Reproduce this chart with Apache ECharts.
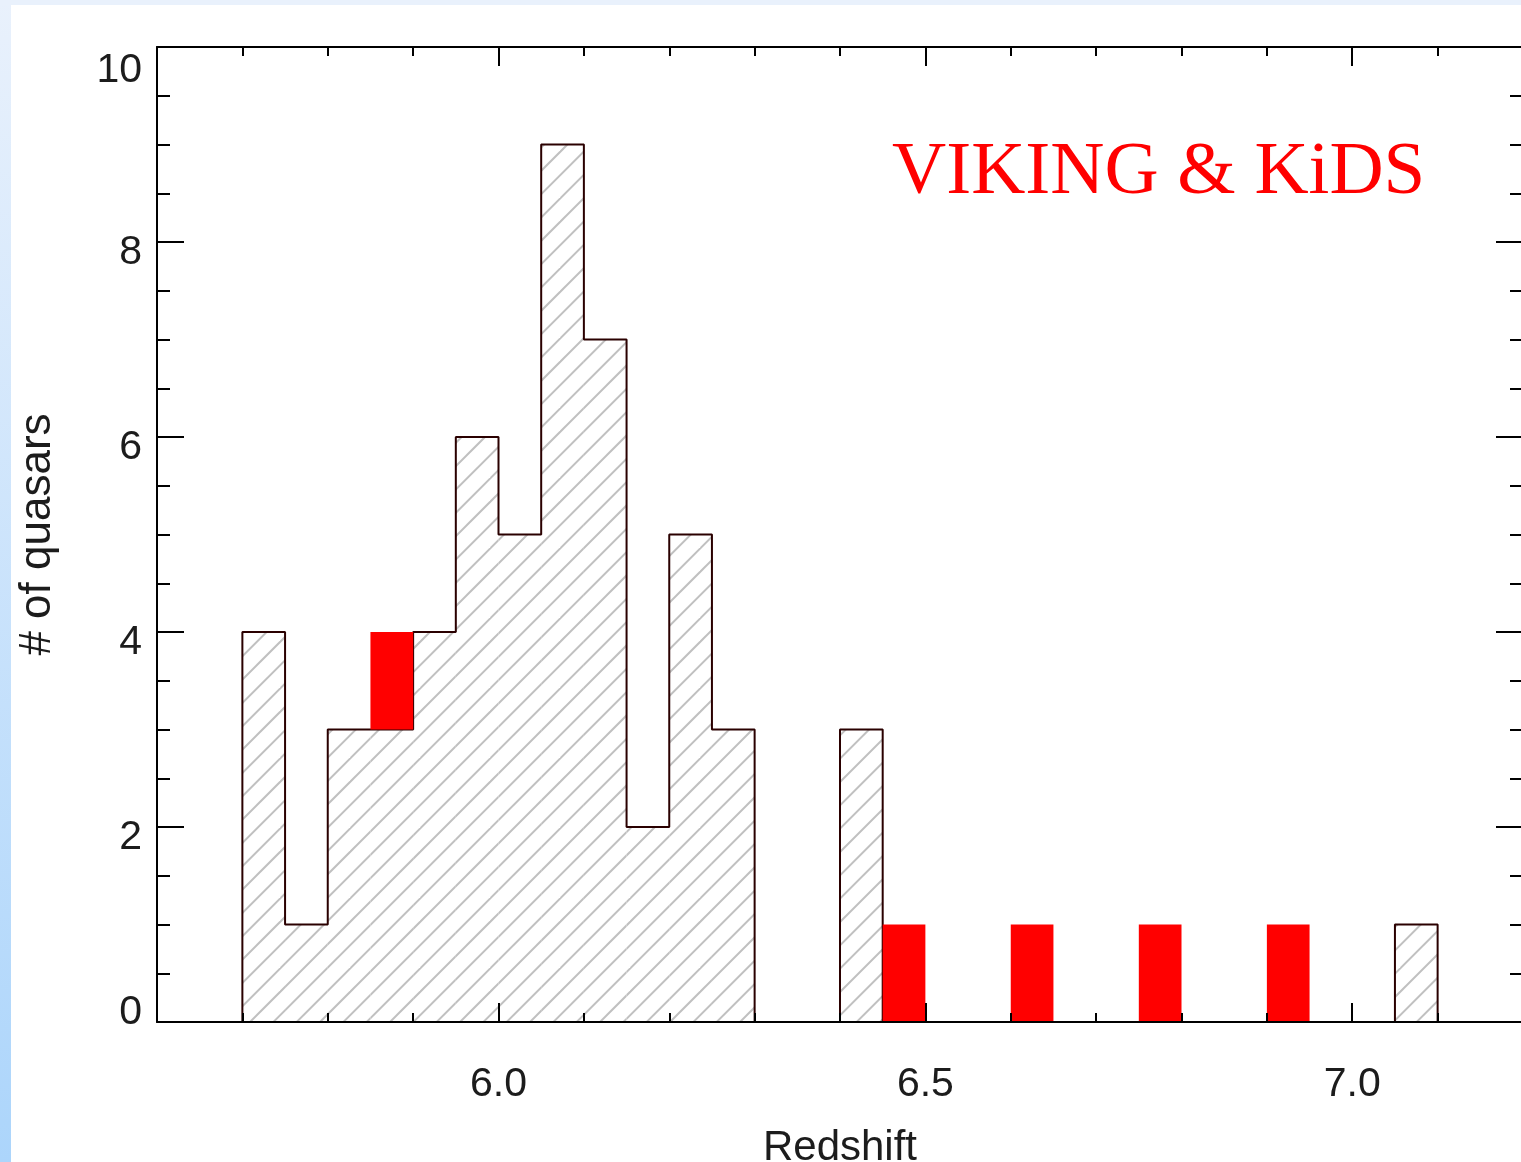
<!DOCTYPE html>
<html>
<head>
<meta charset="utf-8">
<title>Redshift distribution of quasars</title>
<script src="https://cdn.jsdelivr.net/npm/echarts@6/dist/echarts.min.js"></script>
<style>
  html, body { margin: 0; padding: 0; background: #ffffff; }
  #frameLeft { position: absolute; left: 0; top: 0; width: 11px; height: 1162px;
               background: linear-gradient(#e9f1fc, #acd5fb); }
  #frameTop  { position: absolute; left: 0; top: 0; width: 1521px; height: 5px; background: #e9f1fc; }
  #chart     { position: absolute; left: 0; top: 0; width: 1521px; height: 1162px; }
</style>
</head>
<body>
<div id="frameLeft"></div>
<div id="frameTop"></div>
<div id="chart"></div>
<script>
// Histogram bin edges (redshift), one more edge than bins
const binEdges = [5.70, 5.75, 5.80, 5.85, 5.90, 5.95, 6.00, 6.05, 6.10, 6.15,
                  6.20, 6.25, 6.30, 6.35, 6.40, 6.45, 6.50, 6.55, 6.60, 6.65,
                  6.70, 6.75, 6.80, 6.85, 6.90, 6.95, 7.00, 7.05, 7.10];
// Previously known quasars per bin (hatched)
const otherCounts = [4, 1, 3, 3, 4, 6, 5, 9, 7, 2, 5, 3, 0, 0, 3, 0, 0, 0, 0, 0, 0, 0, 0, 0, 0, 0, 0, 1];
// VIKING & KiDS quasars per bin (red, stacked on top)
const vikingKidsCounts = [0, 0, 0, 1, 0, 0, 0, 0, 0, 0, 0, 0, 0, 0, 0, 1, 0, 0, 1, 0, 0, 1, 0, 0, 1, 0, 0, 0];
// Extent of the histogram outline along the baseline
const outlineStart = 5.60;
const outlineEnd = 7.125;
// Axis ranges and tick values
const xMin = 5.6, xMax = 7.2, xMinorStep = 0.1;
const xMajorTicks = [6.0, 6.5, 7.0];
const yMin = 0, yMax = 10, yStep = 2;

const hatchData = binEdges.slice(0, -1).map((lo, i) => [lo, binEdges[i + 1], 0, otherCounts[i]]);
const redData = binEdges.slice(0, -1).map((lo, i) => [lo, binEdges[i + 1], otherCounts[i], otherCounts[i] + vikingKidsCounts[i]]);
const outlineData = [[outlineStart, 0]]
  .concat(binEdges.slice(0, -1).map((lo, i) => [lo, otherCounts[i]]))
  .concat([[binEdges[binEdges.length - 1], 0], [outlineEnd, 0]]);

// Diagonal hatch tile, 45 degree lines
function hatchTile() {
  const size = 70, gap = size / 3, phase = 12;
  const c = document.createElement('canvas');
  c.width = size; c.height = size;
  const g = c.getContext('2d');
  g.strokeStyle = '#c0c0c0';
  g.lineWidth = 2;
  for (let k = -4; k <= 8; k++) {
    const s = phase + k * gap;
    g.beginPath();
    g.moveTo(s + 30, -30);
    g.lineTo(-30, s + 30);
    g.stroke();
  }
  return c;
}
const hatchPattern = { image: hatchTile(), repeat: 'repeat' };

function rectItem(fill) {
  return function (params, api) {
    const lo = api.value(0), hi = api.value(1), base = api.value(2), top = api.value(3);
    if (!(top > base)) return null;
    const p0 = api.coord([lo, top]);
    const p1 = api.coord([hi, base]);
    return {
      type: 'rect',
      shape: { x: p0[0], y: p0[1], width: p1[0] - p0[0], height: p1[1] - p0[1] },
      style: { fill: fill, stroke: null }
    };
  };
}

const FONT = '"Liberation Sans", Arial, Helvetica, sans-serif';
const INK = '#1c1c1c';
const axisLine = { show: true, lineStyle: { color: '#000', width: 2 } };

const chart = echarts.init(document.getElementById('chart'), null, { renderer: 'canvas' });
chart.setOption({
  animation: false,
  backgroundColor: 'transparent',
  title: {
    text: 'VIKING & KiDS',
    left: 887, top: 131,
    textStyle: { fontFamily: '"Liberation Serif", "Times New Roman", serif', fontWeight: 'normal',
                 fontSize: 75, color: '#ff0000' }
  },
  grid: { left: 157, top: 47, width: 1366, height: 975, containLabel: false, outerBoundsMode: 'none' },
  xAxis: [
    { // bottom, major ticks + labels
      type: 'value', position: 'bottom', min: xMin, max: xMax, z: 5,
      axisLine: axisLine,
      axisTick: { show: true, inside: true, length: 19, customValues: xMajorTicks,
                  lineStyle: { color: '#000', width: 2 } },
      axisLabel: { show: true, customValues: xMajorTicks, margin: 42,
                   formatter: v => v.toFixed(1),
                   fontFamily: FONT, fontSize: 41, color: INK },
      splitLine: { show: false },
      name: 'Redshift', nameLocation: 'middle', nameGap: 105,
      nameTextStyle: { fontFamily: FONT, fontSize: 42, color: INK }
    },
    { // bottom, minor ticks
      type: 'value', position: 'bottom', min: xMin, max: xMax, interval: xMinorStep, z: 5,
      axisLine: { show: false },
      axisTick: { show: true, inside: true, length: 9, lineStyle: { color: '#000', width: 2 } },
      axisLabel: { show: false }, splitLine: { show: false }
    },
    { // top mirror, major ticks
      type: 'value', position: 'top', min: xMin, max: xMax, z: 5,
      axisLine: axisLine,
      axisTick: { show: true, inside: true, length: 19, customValues: xMajorTicks,
                  lineStyle: { color: '#000', width: 2 } },
      axisLabel: { show: false }, splitLine: { show: false }
    },
    { // top mirror, minor ticks
      type: 'value', position: 'top', min: xMin, max: xMax, interval: xMinorStep, z: 5,
      axisLine: { show: false },
      axisTick: { show: true, inside: true, length: 9, lineStyle: { color: '#000', width: 2 } },
      axisLabel: { show: false }, splitLine: { show: false }
    }
  ],
  yAxis: [
    {
      type: 'value', position: 'left', min: yMin, max: yMax, interval: yStep, z: 5,
      axisLine: axisLine,
      axisTick: { show: true, inside: true, length: 27, lineStyle: { color: '#000', width: 2 } },
      minorTick: { show: true, splitNumber: 4, length: 13, lineStyle: { color: '#000', width: 2 } },
      axisLabel: {
        margin: 15, fontFamily: FONT, fontSize: 41, color: INK,
        formatter: v => v === yMax ? '{hi|' + v + '}' : v === yMin ? '{lo|' + v + '}' : '{n|' + v + '}',
        rich: {
          n: { fontFamily: FONT, fontSize: 41, color: INK, padding: [22, 0, 0, 0] },
          hi: { fontFamily: FONT, fontSize: 41, color: INK, padding: [47, 0, 0, 0] },
          lo: { fontFamily: FONT, fontSize: 41, color: INK, padding: [0, 0, 18, 0] }
        }
      },
      splitLine: { show: false },
      name: '# of quasars', nameLocation: 'middle', nameGap: 97,
      nameTextStyle: { fontFamily: FONT, fontSize: 44, color: INK }
    },
    {
      type: 'value', position: 'right', min: yMin, max: yMax, interval: yStep, z: 5,
      axisLine: axisLine,
      axisTick: { show: true, inside: true, length: 27, lineStyle: { color: '#000', width: 2 } },
      minorTick: { show: true, splitNumber: 4, length: 13, lineStyle: { color: '#000', width: 2 } },
      axisLabel: { show: false }, splitLine: { show: false }
    }
  ],
  series: [
    {
      name: 'Known quasars', type: 'custom', xAxisIndex: 0, yAxisIndex: 0, z: 1,
      renderItem: rectItem(hatchPattern),
      encode: { x: [0, 1], y: [2, 3] },
      data: hatchData, silent: true
    },
    {
      name: 'Outline', type: 'line', xAxisIndex: 0, yAxisIndex: 0, z: 2,
      step: 'end', symbol: 'none',
      lineStyle: { color: '#2a0000', width: 2 },
      data: outlineData, silent: true
    },
    {
      name: 'VIKING & KiDS', type: 'custom', xAxisIndex: 0, yAxisIndex: 0, z: 3,
      renderItem: rectItem('#ff0000'),
      encode: { x: [0, 1], y: [2, 3] },
      data: redData, silent: true
    }
  ]
});
</script>
</body>
</html>
